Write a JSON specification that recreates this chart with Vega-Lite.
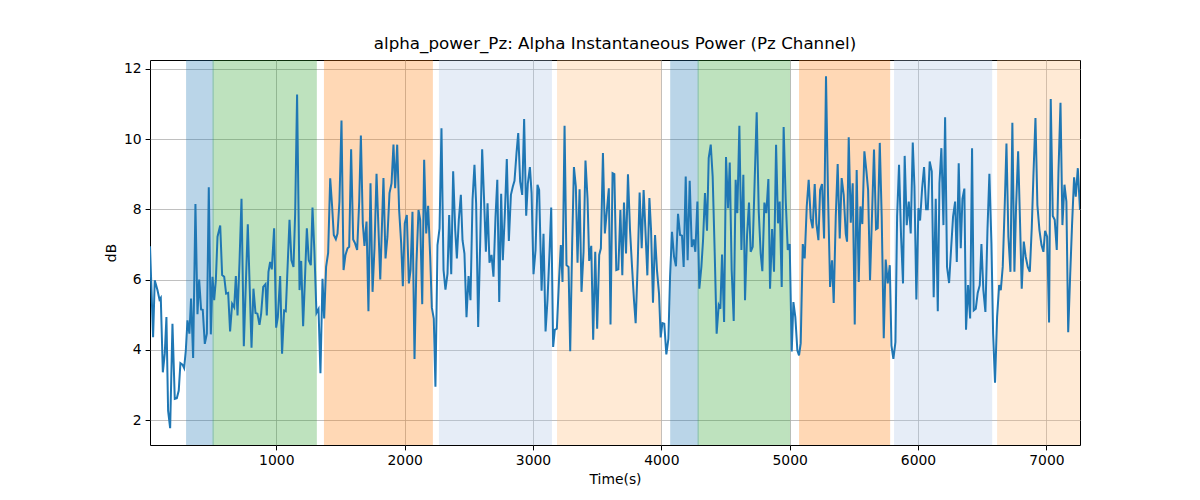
{
  "$schema": "https://vega.github.io/schema/vega-lite/v6.json",
  "width": 930,
  "height": 385,
  "autosize": {"type": "none"},
  "padding": {"left": 150, "top": 60, "right": 120, "bottom": 55},
  "background": "white",
  "title": {
    "text": "alpha_power_Pz: Alpha Instantaneous Power (Pz Channel)",
    "font": "DejaVu Sans",
    "fontSize": 16.7,
    "fontWeight": "normal",
    "color": "black",
    "offset": 7
  },
  "config": {
    "view": {"stroke": "black", "strokeWidth": 1},
    "axis": {
      "domain": false,
      "labelFont": "DejaVu Sans",
      "labelFontSize": 13.9,
      "labelColor": "black",
      "tickColor": "black",
      "tickSize": 4.9,
      "tickWidth": 1,
      "labelPadding": 4,
      "gridColor": "#b0b0b0",
      "gridWidth": 0.8,
      "titleFont": "DejaVu Sans",
      "titleFontSize": 13.9,
      "titleFontWeight": "normal",
      "titleColor": "black",
      "titlePadding": 5
    }
  },
  "datasets": {
    "spans": [
      {"start": 302, "end": 508, "phase": "A"},
      {"start": 508, "end": 1311, "phase": "B"},
      {"start": 1376, "end": 2215, "phase": "C"},
      {"start": 2272, "end": 3143, "phase": "D"},
      {"start": 3192, "end": 3995, "phase": "E"},
      {"start": 4074, "end": 4287, "phase": "A"},
      {"start": 4287, "end": 4999, "phase": "B"},
      {"start": 5078, "end": 5778, "phase": "C"},
      {"start": 5818, "end": 6573, "phase": "D"},
      {"start": 6621, "end": 7300, "phase": "E"}
    ],
    "signal": [
      {"t": 16, "v": 6.95}, {"t": 40, "v": 4.36}, {"t": 53, "v": 5.98}, {"t": 74, "v": 5.7},
      {"t": 90, "v": 5.43}, {"t": 100, "v": 5.48}, {"t": 116, "v": 3.36}, {"t": 131, "v": 3.89},
      {"t": 144, "v": 4.93}, {"t": 157, "v": 2.27}, {"t": 173, "v": 1.77}, {"t": 191, "v": 4.74},
      {"t": 209, "v": 2.6}, {"t": 225, "v": 2.62}, {"t": 240, "v": 2.84}, {"t": 253, "v": 3.62},
      {"t": 269, "v": 3.58}, {"t": 282, "v": 3.48}, {"t": 295, "v": 3.98}, {"t": 308, "v": 4.84},
      {"t": 323, "v": 4.46}, {"t": 336, "v": 5.46}, {"t": 352, "v": 3.77}, {"t": 370, "v": 8.15},
      {"t": 386, "v": 5.01}, {"t": 399, "v": 6.0}, {"t": 414, "v": 5.15}, {"t": 427, "v": 5.14},
      {"t": 443, "v": 4.17}, {"t": 459, "v": 4.46}, {"t": 474, "v": 8.63}, {"t": 490, "v": 4.44},
      {"t": 503, "v": 6.08}, {"t": 516, "v": 5.41}, {"t": 529, "v": 5.98}, {"t": 542, "v": 7.22},
      {"t": 563, "v": 7.54}, {"t": 578, "v": 6.13}, {"t": 594, "v": 6.08}, {"t": 609, "v": 5.6},
      {"t": 625, "v": 5.62}, {"t": 640, "v": 4.52}, {"t": 656, "v": 5.31}, {"t": 672, "v": 5.21},
      {"t": 685, "v": 6.1}, {"t": 698, "v": 4.98}, {"t": 713, "v": 6.46}, {"t": 729, "v": 8.3},
      {"t": 747, "v": 4.1}, {"t": 762, "v": 5.8}, {"t": 778, "v": 7.57}, {"t": 807, "v": 4.06},
      {"t": 822, "v": 5.74}, {"t": 838, "v": 5.05}, {"t": 853, "v": 5.03}, {"t": 869, "v": 4.71},
      {"t": 882, "v": 5.03}, {"t": 898, "v": 5.79}, {"t": 916, "v": 5.87}, {"t": 926, "v": 4.98},
      {"t": 939, "v": 6.22}, {"t": 952, "v": 6.5}, {"t": 965, "v": 6.29}, {"t": 983, "v": 7.46},
      {"t": 999, "v": 4.63}, {"t": 1012, "v": 4.93}, {"t": 1030, "v": 6.1}, {"t": 1045, "v": 3.89},
      {"t": 1061, "v": 5.12}, {"t": 1074, "v": 5.1}, {"t": 1087, "v": 6.27}, {"t": 1103, "v": 7.7},
      {"t": 1118, "v": 6.55}, {"t": 1134, "v": 6.36}, {"t": 1147, "v": 7.89}, {"t": 1162, "v": 11.27},
      {"t": 1181, "v": 5.7}, {"t": 1194, "v": 6.53}, {"t": 1209, "v": 4.67}, {"t": 1222, "v": 5.89},
      {"t": 1238, "v": 7.46}, {"t": 1253, "v": 6.55}, {"t": 1269, "v": 6.41}, {"t": 1282, "v": 8.05},
      {"t": 1297, "v": 6.79}, {"t": 1313, "v": 5.05}, {"t": 1329, "v": 5.16}, {"t": 1344, "v": 3.33},
      {"t": 1360, "v": 6.02}, {"t": 1373, "v": 4.89}, {"t": 1388, "v": 6.36}, {"t": 1404, "v": 6.76},
      {"t": 1420, "v": 8.88}, {"t": 1435, "v": 8.08}, {"t": 1448, "v": 7.27}, {"t": 1464, "v": 7.15},
      {"t": 1477, "v": 7.31}, {"t": 1492, "v": 8.22}, {"t": 1508, "v": 10.53}, {"t": 1524, "v": 6.27},
      {"t": 1539, "v": 6.7}, {"t": 1555, "v": 6.89}, {"t": 1568, "v": 6.93}, {"t": 1583, "v": 9.71},
      {"t": 1599, "v": 7.14}, {"t": 1614, "v": 7.03}, {"t": 1630, "v": 6.84}, {"t": 1646, "v": 8.22},
      {"t": 1659, "v": 10.1}, {"t": 1674, "v": 7.6}, {"t": 1687, "v": 6.96}, {"t": 1703, "v": 7.65},
      {"t": 1718, "v": 5.1}, {"t": 1734, "v": 8.74}, {"t": 1750, "v": 5.65}, {"t": 1765, "v": 6.89},
      {"t": 1781, "v": 9.01}, {"t": 1810, "v": 6.0}, {"t": 1835, "v": 8.89}, {"t": 1851, "v": 6.6},
      {"t": 1866, "v": 7.22}, {"t": 1882, "v": 8.46}, {"t": 1898, "v": 8.74}, {"t": 1913, "v": 9.84},
      {"t": 1926, "v": 8.6}, {"t": 1942, "v": 9.84}, {"t": 1957, "v": 7.98}, {"t": 1973, "v": 7.03},
      {"t": 1986, "v": 5.81}, {"t": 2001, "v": 7.6}, {"t": 2017, "v": 7.84}, {"t": 2033, "v": 5.89},
      {"t": 2046, "v": 6.27}, {"t": 2061, "v": 7.93}, {"t": 2077, "v": 3.74}, {"t": 2092, "v": 6.46},
      {"t": 2108, "v": 7.98}, {"t": 2121, "v": 7.7}, {"t": 2137, "v": 5.3}, {"t": 2152, "v": 9.41},
      {"t": 2168, "v": 7.31}, {"t": 2183, "v": 8.1}, {"t": 2199, "v": 6.65}, {"t": 2212, "v": 5.2},
      {"t": 2227, "v": 4.89}, {"t": 2240, "v": 2.95}, {"t": 2256, "v": 6.98}, {"t": 2272, "v": 7.46},
      {"t": 2287, "v": 10.31}, {"t": 2303, "v": 6.27}, {"t": 2318, "v": 5.71}, {"t": 2334, "v": 6.17},
      {"t": 2347, "v": 7.84}, {"t": 2363, "v": 6.15}, {"t": 2378, "v": 9.08}, {"t": 2394, "v": 7.41},
      {"t": 2407, "v": 6.6}, {"t": 2422, "v": 7.7}, {"t": 2438, "v": 8.41}, {"t": 2451, "v": 7.12},
      {"t": 2466, "v": 6.74}, {"t": 2482, "v": 4.93}, {"t": 2498, "v": 6.1}, {"t": 2513, "v": 5.41},
      {"t": 2529, "v": 8.27}, {"t": 2544, "v": 9.27}, {"t": 2557, "v": 8.17}, {"t": 2573, "v": 4.65},
      {"t": 2589, "v": 7.12}, {"t": 2604, "v": 9.71}, {"t": 2620, "v": 8.17}, {"t": 2633, "v": 6.79},
      {"t": 2646, "v": 8.17}, {"t": 2661, "v": 6.48}, {"t": 2677, "v": 6.7}, {"t": 2692, "v": 6.08},
      {"t": 2708, "v": 7.79}, {"t": 2722, "v": 8.84}, {"t": 2737, "v": 5.36}, {"t": 2752, "v": 8.44},
      {"t": 2765, "v": 6.55}, {"t": 2781, "v": 7.89}, {"t": 2796, "v": 9.43}, {"t": 2812, "v": 7.1},
      {"t": 2828, "v": 8.41}, {"t": 2843, "v": 8.65}, {"t": 2856, "v": 8.81}, {"t": 2872, "v": 9.62},
      {"t": 2885, "v": 10.17}, {"t": 2900, "v": 8.79}, {"t": 2916, "v": 8.41}, {"t": 2931, "v": 10.57},
      {"t": 2947, "v": 7.82}, {"t": 2960, "v": 8.74}, {"t": 2976, "v": 9.2}, {"t": 2989, "v": 8.46},
      {"t": 3004, "v": 6.15}, {"t": 3020, "v": 6.84}, {"t": 3035, "v": 8.7}, {"t": 3048, "v": 8.55},
      {"t": 3067, "v": 5.68}, {"t": 3082, "v": 7.3}, {"t": 3098, "v": 4.52}, {"t": 3113, "v": 5.41},
      {"t": 3129, "v": 6.79}, {"t": 3142, "v": 8.05}, {"t": 3157, "v": 4.08}, {"t": 3170, "v": 4.57},
      {"t": 3186, "v": 4.6}, {"t": 3202, "v": 5.93}, {"t": 3217, "v": 6.98}, {"t": 3230, "v": 5.93},
      {"t": 3246, "v": 10.38}, {"t": 3261, "v": 6.41}, {"t": 3277, "v": 6.36}, {"t": 3290, "v": 3.96},
      {"t": 3306, "v": 7.14}, {"t": 3319, "v": 9.2}, {"t": 3334, "v": 8.65}, {"t": 3347, "v": 6.48},
      {"t": 3363, "v": 8.57}, {"t": 3378, "v": 5.65}, {"t": 3394, "v": 6.79}, {"t": 3409, "v": 9.39},
      {"t": 3425, "v": 8.3}, {"t": 3438, "v": 6.53}, {"t": 3454, "v": 6.96}, {"t": 3469, "v": 4.29},
      {"t": 3485, "v": 6.79}, {"t": 3500, "v": 4.6}, {"t": 3516, "v": 6.7}, {"t": 3529, "v": 6.89},
      {"t": 3545, "v": 9.6}, {"t": 3560, "v": 7.31}, {"t": 3576, "v": 7.98}, {"t": 3591, "v": 8.6},
      {"t": 3604, "v": 4.72}, {"t": 3620, "v": 9.03}, {"t": 3634, "v": 9.0}, {"t": 3649, "v": 6.27},
      {"t": 3665, "v": 6.29}, {"t": 3681, "v": 7.98}, {"t": 3696, "v": 6.12}, {"t": 3709, "v": 8.19},
      {"t": 3725, "v": 6.74}, {"t": 3740, "v": 9.0}, {"t": 3756, "v": 7.41}, {"t": 3771, "v": 6.41},
      {"t": 3787, "v": 5.41}, {"t": 3800, "v": 4.76}, {"t": 3816, "v": 6.46}, {"t": 3831, "v": 8.48},
      {"t": 3847, "v": 6.89}, {"t": 3862, "v": 8.55}, {"t": 3875, "v": 7.5}, {"t": 3891, "v": 6.12},
      {"t": 3907, "v": 8.32}, {"t": 3920, "v": 7.41}, {"t": 3935, "v": 5.34}, {"t": 3951, "v": 7.27},
      {"t": 3966, "v": 6.27}, {"t": 3982, "v": 5.6}, {"t": 3995, "v": 4.35}, {"t": 4008, "v": 4.76},
      {"t": 4023, "v": 4.74}, {"t": 4039, "v": 3.87}, {"t": 4055, "v": 4.31}, {"t": 4068, "v": 6.08},
      {"t": 4083, "v": 7.36}, {"t": 4099, "v": 6.65}, {"t": 4114, "v": 6.38}, {"t": 4130, "v": 7.87},
      {"t": 4146, "v": 7.27}, {"t": 4161, "v": 7.25}, {"t": 4174, "v": 6.36}, {"t": 4190, "v": 8.93},
      {"t": 4205, "v": 6.55}, {"t": 4221, "v": 8.81}, {"t": 4237, "v": 6.93}, {"t": 4252, "v": 7.14},
      {"t": 4265, "v": 6.79}, {"t": 4281, "v": 8.22}, {"t": 4296, "v": 5.74}, {"t": 4312, "v": 6.36},
      {"t": 4325, "v": 7.12}, {"t": 4340, "v": 8.46}, {"t": 4356, "v": 7.39}, {"t": 4369, "v": 9.46},
      {"t": 4385, "v": 9.84}, {"t": 4400, "v": 8.93}, {"t": 4416, "v": 6.74}, {"t": 4431, "v": 4.46},
      {"t": 4447, "v": 5.27}, {"t": 4460, "v": 5.17}, {"t": 4473, "v": 6.71}, {"t": 4489, "v": 4.79},
      {"t": 4504, "v": 9.49}, {"t": 4520, "v": 8.03}, {"t": 4533, "v": 9.33}, {"t": 4548, "v": 6.27},
      {"t": 4564, "v": 4.82}, {"t": 4579, "v": 8.84}, {"t": 4592, "v": 7.89}, {"t": 4608, "v": 10.38},
      {"t": 4624, "v": 6.84}, {"t": 4639, "v": 8.98}, {"t": 4652, "v": 5.41}, {"t": 4668, "v": 7.27},
      {"t": 4683, "v": 8.19}, {"t": 4696, "v": 6.79}, {"t": 4712, "v": 6.93}, {"t": 4727, "v": 8.79},
      {"t": 4743, "v": 10.76}, {"t": 4759, "v": 7.93}, {"t": 4774, "v": 6.74}, {"t": 4787, "v": 6.24},
      {"t": 4803, "v": 8.19}, {"t": 4818, "v": 7.89}, {"t": 4834, "v": 8.86}, {"t": 4847, "v": 5.74},
      {"t": 4863, "v": 7.44}, {"t": 4878, "v": 6.22}, {"t": 4894, "v": 9.84}, {"t": 4909, "v": 7.6},
      {"t": 4922, "v": 8.22}, {"t": 4938, "v": 5.79}, {"t": 4953, "v": 10.34}, {"t": 4969, "v": 8.27},
      {"t": 4985, "v": 6.84}, {"t": 5000, "v": 7.01}, {"t": 5016, "v": 3.95}, {"t": 5029, "v": 5.36},
      {"t": 5044, "v": 4.93}, {"t": 5060, "v": 3.98}, {"t": 5073, "v": 3.84}, {"t": 5086, "v": 4.19},
      {"t": 5102, "v": 7.01}, {"t": 5117, "v": 6.6}, {"t": 5133, "v": 8.08}, {"t": 5148, "v": 8.84},
      {"t": 5164, "v": 7.74}, {"t": 5179, "v": 7.46}, {"t": 5195, "v": 8.72}, {"t": 5208, "v": 7.6},
      {"t": 5224, "v": 7.12}, {"t": 5237, "v": 8.55}, {"t": 5252, "v": 8.72}, {"t": 5268, "v": 7.17},
      {"t": 5283, "v": 11.79}, {"t": 5299, "v": 8.36}, {"t": 5315, "v": 5.79}, {"t": 5330, "v": 6.55},
      {"t": 5343, "v": 5.33}, {"t": 5359, "v": 7.79}, {"t": 5374, "v": 9.29}, {"t": 5390, "v": 7.17},
      {"t": 5405, "v": 8.89}, {"t": 5421, "v": 8.41}, {"t": 5437, "v": 7.3}, {"t": 5447, "v": 7.08},
      {"t": 5460, "v": 10.05}, {"t": 5476, "v": 7.62}, {"t": 5491, "v": 8.74}, {"t": 5507, "v": 4.72},
      {"t": 5522, "v": 9.12}, {"t": 5538, "v": 5.93}, {"t": 5551, "v": 8.08}, {"t": 5566, "v": 7.58},
      {"t": 5582, "v": 9.65}, {"t": 5598, "v": 9.08}, {"t": 5611, "v": 8.55}, {"t": 5626, "v": 5.98},
      {"t": 5642, "v": 7.89}, {"t": 5657, "v": 9.7}, {"t": 5673, "v": 7.43}, {"t": 5686, "v": 7.46},
      {"t": 5702, "v": 9.89}, {"t": 5717, "v": 7.79}, {"t": 5733, "v": 4.33}, {"t": 5748, "v": 6.57},
      {"t": 5764, "v": 5.89}, {"t": 5780, "v": 6.41}, {"t": 5793, "v": 4.12}, {"t": 5808, "v": 3.74},
      {"t": 5824, "v": 4.22}, {"t": 5837, "v": 7.79}, {"t": 5852, "v": 9.27}, {"t": 5868, "v": 7.22},
      {"t": 5883, "v": 5.89}, {"t": 5896, "v": 9.52}, {"t": 5912, "v": 7.55}, {"t": 5928, "v": 8.22},
      {"t": 5943, "v": 7.31}, {"t": 5959, "v": 9.9}, {"t": 5972, "v": 8.65}, {"t": 5987, "v": 5.43},
      {"t": 6003, "v": 8.03}, {"t": 6016, "v": 7.68}, {"t": 6032, "v": 8.6}, {"t": 6047, "v": 9.2},
      {"t": 6063, "v": 8.0}, {"t": 6076, "v": 8.0}, {"t": 6091, "v": 9.36}, {"t": 6107, "v": 9.08},
      {"t": 6122, "v": 5.5}, {"t": 6138, "v": 8.3}, {"t": 6154, "v": 5.1}, {"t": 6167, "v": 8.74},
      {"t": 6182, "v": 9.74}, {"t": 6198, "v": 7.55}, {"t": 6211, "v": 10.62}, {"t": 6226, "v": 6.36},
      {"t": 6242, "v": 5.9}, {"t": 6258, "v": 6.89}, {"t": 6273, "v": 7.79}, {"t": 6289, "v": 8.22},
      {"t": 6302, "v": 6.5}, {"t": 6317, "v": 9.31}, {"t": 6333, "v": 6.89}, {"t": 6346, "v": 8.3},
      {"t": 6361, "v": 8.59}, {"t": 6374, "v": 4.57}, {"t": 6390, "v": 5.84}, {"t": 6406, "v": 4.89},
      {"t": 6421, "v": 9.74}, {"t": 6434, "v": 5.12}, {"t": 6450, "v": 5.17}, {"t": 6465, "v": 5.62},
      {"t": 6481, "v": 5.84}, {"t": 6494, "v": 7.01}, {"t": 6509, "v": 5.7}, {"t": 6525, "v": 5.08},
      {"t": 6541, "v": 7.41}, {"t": 6556, "v": 9.01}, {"t": 6572, "v": 7.03}, {"t": 6585, "v": 4.46},
      {"t": 6600, "v": 3.06}, {"t": 6616, "v": 4.93}, {"t": 6632, "v": 5.84}, {"t": 6645, "v": 5.7},
      {"t": 6660, "v": 6.36}, {"t": 6676, "v": 8.17}, {"t": 6689, "v": 9.87}, {"t": 6704, "v": 7.22},
      {"t": 6720, "v": 6.22}, {"t": 6735, "v": 10.46}, {"t": 6751, "v": 6.22}, {"t": 6764, "v": 8.08},
      {"t": 6780, "v": 9.65}, {"t": 6795, "v": 7.6}, {"t": 6808, "v": 5.74}, {"t": 6824, "v": 7.08},
      {"t": 6839, "v": 6.65}, {"t": 6855, "v": 6.36}, {"t": 6871, "v": 6.22}, {"t": 6886, "v": 7.46},
      {"t": 6899, "v": 8.95}, {"t": 6915, "v": 10.6}, {"t": 6930, "v": 8.12}, {"t": 6946, "v": 7.41},
      {"t": 6962, "v": 6.98}, {"t": 6977, "v": 6.79}, {"t": 6990, "v": 7.39}, {"t": 7006, "v": 7.22},
      {"t": 7021, "v": 4.78}, {"t": 7034, "v": 11.14}, {"t": 7050, "v": 7.81}, {"t": 7065, "v": 7.7},
      {"t": 7081, "v": 6.84}, {"t": 7094, "v": 9.03}, {"t": 7110, "v": 11.03}, {"t": 7125, "v": 7.55},
      {"t": 7141, "v": 8.7}, {"t": 7156, "v": 8.22}, {"t": 7170, "v": 4.5}, {"t": 7185, "v": 6.08},
      {"t": 7200, "v": 7.55}, {"t": 7216, "v": 8.91}, {"t": 7229, "v": 8.36}, {"t": 7245, "v": 9.17},
      {"t": 7262, "v": 7.98}
    ]
  },
  "layer": [
    {
      "data": {"name": "spans"},
      "mark": {"type": "rect", "opacity": 0.3, "strokeWidth": 1.2, "clip": true},
      "encoding": {
        "x": {
          "field": "start",
          "type": "quantitative",
          "scale": {"domain": [16, 7262], "nice": false, "zero": false},
          "axis": {"values": [1000, 2000, 3000, 4000, 5000, 6000, 7000], "format": "d", "title": "Time(s)"}
        },
        "x2": {"field": "end"},
        "color": {
          "field": "phase",
          "type": "nominal",
          "scale": {
            "domain": ["A", "B", "C", "D", "E"],
            "range": ["#1f77b4", "#2ca02c", "#ff7f0e", "#aec7e8", "#ffbb78"]
          },
          "legend": null
        },
        "stroke": {
          "field": "phase",
          "type": "nominal",
          "scale": {
            "domain": ["A", "B", "C", "D", "E"],
            "range": ["#1f77b4", "#2ca02c", "#ff7f0e", "#aec7e8", "#ffbb78"]
          },
          "legend": null
        }
      }
    },
    {
      "data": {"name": "signal"},
      "mark": {"type": "line", "color": "#1f77b4", "strokeWidth": 2, "clip": true},
      "encoding": {
        "x": {
          "field": "t",
          "type": "quantitative",
          "scale": {"domain": [16, 7262], "nice": false, "zero": false},
          "axis": {"values": [1000, 2000, 3000, 4000, 5000, 6000, 7000], "format": "d", "title": "Time(s)"}
        },
        "y": {
          "field": "v",
          "type": "quantitative",
          "scale": {"domain": [1.29, 12.25], "nice": false, "zero": false},
          "axis": {"values": [2, 4, 6, 8, 10, 12], "format": "d", "title": "dB"}
        }
      }
    }
  ]
}
